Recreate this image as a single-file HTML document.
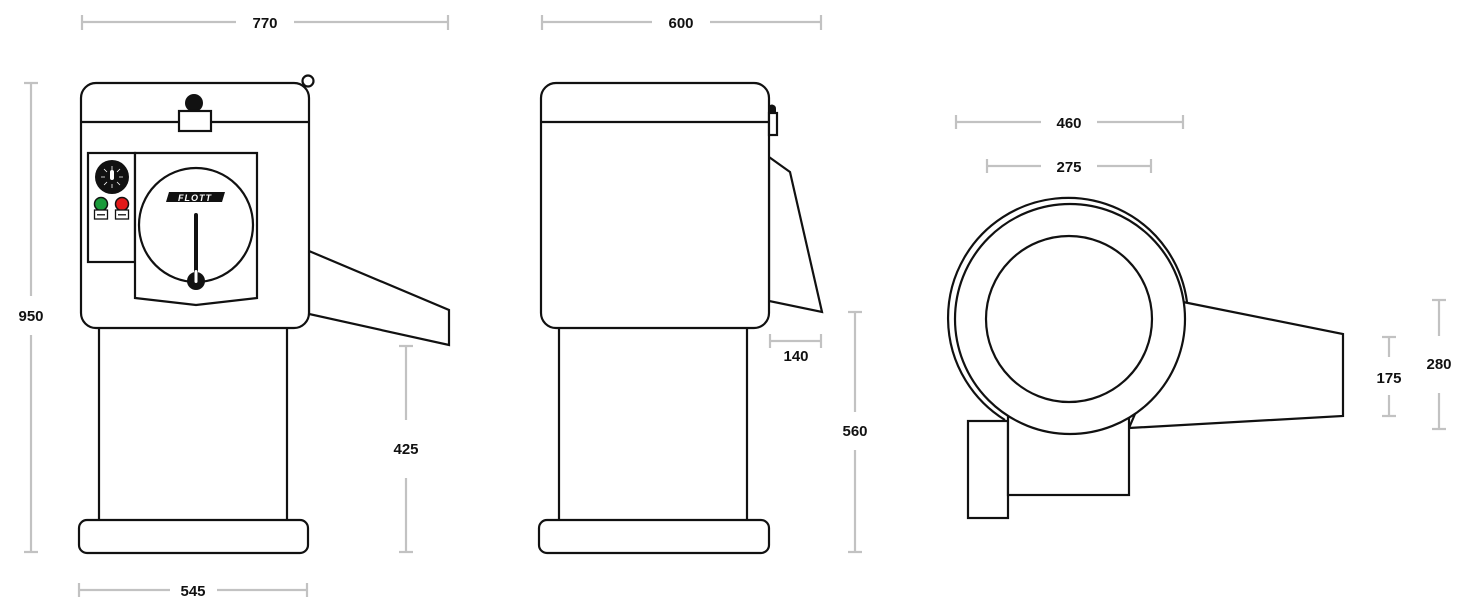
<!DOCTYPE html>
<html><head><meta charset="utf-8"><style>
html,body{margin:0;padding:0;background:#fff;}
svg{display:block}
text{font-family:"Liberation Sans",sans-serif;font-weight:bold;font-size:15px;fill:#111;text-anchor:middle}
.d{stroke:#c2c2c2;stroke-width:2.2;fill:none}
.k{stroke:#111;stroke-width:2.2;fill:#fff}
.n{stroke:#111;stroke-width:2.2;fill:none}
</style></head><body>
<svg width="1470" height="612" viewBox="0 0 1470 612" xmlns="http://www.w3.org/2000/svg">
<!-- dimensions -->
<g class="d">
<path d="M82,15v15M82,22H236M294,22H448M448,15v15"/>
<path d="M24,83h14M31,83V296M31,335V552M24,552h14"/>
<path d="M136,349v14M136,356H172M220,356H256M256,349v14"/>
<path d="M399,346h14M406,346V420M406,478V552M399,552h14"/>
<path d="M79,583v14M79,590H170M217,590H307M307,583v14"/>
<path d="M542,15v15M542,22H652M710,22H821M821,15v15"/>
<path d="M770,334v14M770,341H821M821,334v14"/>
<path d="M848,312h14M855,312V412M855,450V552M848,552h14"/>
<path d="M956,115v14M956,122H1041M1097,122H1183M1183,115v14"/>
<path d="M987,159v14M987,166H1041M1097,166H1151M1151,159v14"/>
<path d="M1382,337h14M1389,337V357M1389,395V416M1382,416h14"/>
<path d="M1432,300h14M1439,300V336M1439,393V429M1432,429h14"/>
</g>
<text x="265" y="28">770</text>
<text x="31" y="321">950</text>
<text x="196" y="362">255</text>
<text x="406" y="454">425</text>
<text x="193" y="596">545</text>
<text x="681" y="28">600</text>
<text x="796" y="361">140</text>
<text x="855" y="436">560</text>
<text x="1069" y="128">460</text>
<text x="1069" y="172">275</text>
<text x="1389" y="383">175</text>
<text x="1439" y="369">280</text>

<!-- FRONT VIEW -->
<path class="k" d="M309,251L449,310L449,345L309,314Z"/>
<rect class="k" x="99" y="326" width="188" height="195"/>
<rect class="k" x="79" y="520" width="229" height="33" rx="8"/>
<circle class="k" cx="308" cy="81" r="5.5" stroke-width="1.8"/>
<rect class="k" x="81" y="83" width="228" height="245" rx="15"/>
<line class="n" x1="81" y1="122" x2="309" y2="122"/>
<circle cx="194" cy="103" r="9" fill="#111"/>
<rect class="k" x="179" y="111" width="32" height="20"/>
<rect class="k" x="88" y="153" width="47" height="109"/>
<path class="k" d="M135,153H257V298L196,305L135,298Z"/>
<circle class="k" cx="196" cy="225" r="57"/>
<circle cx="112" cy="177" r="17" fill="#111"/>
<g stroke="#fff" stroke-width="0.8">
<path d="M112,166v4M112,184v4M101,177h4M119,177h4M104,169l3,3M117,182l3,3M120,169l-3,3M107,182l-3,3"/>
</g>
<rect x="110" y="170" width="4" height="10" rx="2" fill="#fff"/>
<circle cx="101" cy="204" r="6.5" fill="#1a9a3a" stroke="#111" stroke-width="1.5"/>
<circle cx="122" cy="204" r="6.5" fill="#e21a1a" stroke="#111" stroke-width="1.5"/>
<rect x="94.5" y="210" width="13" height="9" fill="#fff" stroke="#111" stroke-width="1.3"/>
<rect x="115.5" y="210" width="13" height="9" fill="#fff" stroke="#111" stroke-width="1.3"/>
<rect x="97" y="214" width="8" height="1.5" fill="#333"/>
<rect x="118" y="214" width="8" height="1.5" fill="#333"/>
<path d="M169,192H225L222,202H166Z" fill="#111"/>
<text x="195" y="201" style="font-size:9px;fill:#fff;font-style:italic;letter-spacing:1px">FLOTT</text>
<rect x="194" y="213" width="4" height="70" rx="2" fill="#111"/>
<circle cx="196" cy="281" r="9" fill="#111"/>
<rect x="194.5" y="270" width="3" height="13" rx="1.5" fill="#fff"/>

<!-- SIDE VIEW -->
<path class="k" d="M769,157L790,172L822,312L769,301Z"/>
<rect class="k" x="559" y="326" width="188" height="195"/>
<rect class="k" x="539" y="520" width="230" height="33" rx="8"/>
<rect class="k" x="541" y="83" width="228" height="245" rx="15"/>
<line class="n" x1="541" y1="122" x2="769" y2="122"/>
<rect class="k" x="769" y="113" width="8" height="22" stroke-width="1.8"/>
<path d="M769,106a4,4 0 0 1 7,3v5h-7z" fill="#111"/>

<!-- TOP VIEW -->
<path class="k" d="M1183,302L1343,334L1343,416L1129,428Z"/>
<rect class="k" x="968" y="421" width="40" height="97"/>
<rect class="k" x="1008" y="400" width="121" height="95"/>
<path class="n" d="M1005,420A120,120 0 1 1 1187,302"/>
<circle class="k" cx="1070" cy="319" r="115"/>
<circle class="k" cx="1069" cy="319" r="83"/>
</svg>
</body></html>
